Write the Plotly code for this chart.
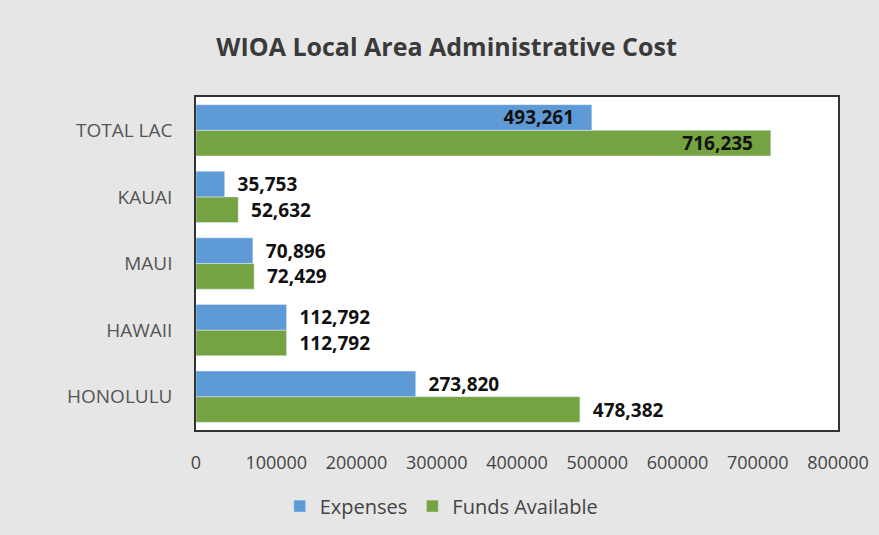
import plotly.graph_objects as go

categories = ["HONOLULU", "HAWAII", "MAUI", "KAUAI", "TOTAL LAC"]
expenses = [273820, 112792, 70896, 35753, 493261]
funds_available = [478382, 112792, 72429, 52632, 716235]
tick_vals = [0, 100000, 200000, 300000, 400000, 500000, 600000, 700000, 800000]
tick_text = [str(v) for v in tick_vals]

NB = "\u00a0"

def labels(values):
    out = []
    for c, v in zip(categories, values):
        if c == "TOTAL LAC":
            out.append(f"{v:,}" + NB * 3)
        else:
            out.append(NB * 2 + f"{v:,}")
    return out

def positions():
    return ["inside" if c == "TOTAL LAC" else "outside" for c in categories]

label_font = dict(family="Open Sans", size=19, color="#111111", weight="bold")

fig = go.Figure()
fig.add_trace(go.Bar(
    y=categories, x=funds_available, name="Funds Available", orientation="h",
    marker=dict(color="#75a342"),
    text=labels(funds_available), textposition=positions(),
    insidetextanchor="end", textfont=label_font, cliponaxis=False,
    constraintext="none", textangle=0,
))
fig.add_trace(go.Bar(
    y=categories, x=expenses, name="Expenses", orientation="h",
    marker=dict(color="#5e9ad6"),
    text=labels(expenses), textposition=positions(),
    insidetextanchor="end", textfont=label_font, cliponaxis=False,
    constraintext="none", textangle=0,
))

fig.update_layout(
    width=879, height=535,
    barmode="group", bargap=0.23, bargroupgap=0,
    paper_bgcolor="#e6e6e6", plot_bgcolor="#ffffff",
    margin=dict(l=196, r=41, t=97, b=105, autoexpand=False),
    title=dict(text="<b>WIOA Local Area Administrative Cost</b>", x=0.508, xanchor="center",
               y=0.912, yanchor="middle",
               font=dict(family="Open Sans", size=25, color="#3a3a3a")),
    font=dict(family="Open Sans", size=18, color="#444444"),
    legend=dict(orientation="h", xref="container", x=0.502, xanchor="center",
                yref="container", y=0.054, yanchor="middle",
                traceorder="reversed", font=dict(size=20, color="#444444"),
                bgcolor="rgba(0,0,0,0)", itemwidth=30),
)
fig.update_xaxes(range=[0, 800000], tickvals=tick_vals, ticktext=tick_text,
                 showgrid=False, zeroline=False, showline=True, linecolor="#333333",
                 mirror=True, linewidth=1.5, tickfont=dict(size=18, color="#444444"),
                 ticks="", ticklabelstandoff=16)
fig.update_yaxes(showgrid=False, showline=True, linecolor="#333333", mirror=True,
                 linewidth=1.5, ticks="", tickfont=dict(size=19, color="#555555"),
                 ticklabelstandoff=18)

fig.write_html("out.html", config={"displayModeBar": False},
               post_script="document.body.style.margin='0';document.body.style.padding='0';")
